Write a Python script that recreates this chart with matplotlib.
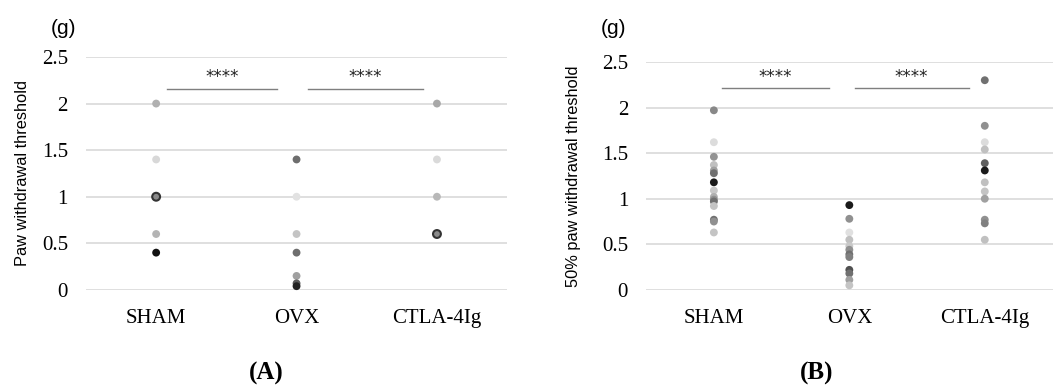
import numpy as np
from matplotlib import pyplot as plt

# Data
groups = ['SHAM', 'OVX', 'CTLA-4Ig']

a_sham = [2.0, 1.4, 1.0, 0.6, 0.4]
a_ovx = [1.4, 1.0, 0.6, 0.4, 0.15, 0.07, 0.04]
a_ctla = [2.0, 1.4, 1.0, 0.6]

b_sham = [1.97, 1.62, 1.46, 1.37, 1.31, 1.28, 1.18, 1.09, 1.02, 0.99, 0.97, 0.92, 0.77, 0.75, 0.63]
b_ovx = [0.93, 0.78, 0.63, 0.55, 0.48, 0.44, 0.39, 0.36, 0.22, 0.18, 0.11, 0.05]
b_ctla = [2.30, 1.80, 1.62, 1.54, 1.39, 1.31, 1.18, 1.08, 1.00, 0.77, 0.73, 0.55]

sig_pairs = [(0, 1), (1, 2)]
sig_text = '****'

# Styles (gray shade per point)
a_shades = [['#b0b0b0', '#d8d8d8', '#8a8a8a', '#b4b4b4', '#111111'],
            ['#6e6e6e', '#e2e2e2', '#c4c4c4', '#6e6e6e', '#a0a0a0', '#5a5a5a', '#222222'],
            ['#a8a8a8', '#dadada', '#b8b8b8', '#8a8a8a']]
a_edges = [['none', 'none', '#333333', 'none', 'none'],
           ['none'] * 7,
           ['none', 'none', 'none', '#333333']]
b_shades = [['#888888', '#dcdcdc', '#939393', '#c0c0c0', '#a0a0a0', '#707070', '#1a1a1a',
             '#c8c8c8', '#b0b0b0', '#909090', '#707070', '#c4c4c4', '#707070', '#909090', '#c4c4c4'],
            ['#1a1a1a', '#909090', '#e0e0e0', '#c0c0c0', '#c8c8c8', '#909090', '#707070',
             '#808080', '#505050', '#707070', '#a0a0a0', '#c4c4c4'],
            ['#707070', '#909090', '#dcdcdc', '#c0c0c0', '#606060', '#1a1a1a', '#c0c0c0',
             '#c4c4c4', '#a0a0a0', '#909090', '#808080', '#c0c0c0']]

serif = 'Liberation Serif'
sans = 'Liberation Sans'


def draw_panel(fig, ax, series, shades, edges, ylabel, ylab_x, sig_y, sig_spans,
               letter, letter_x, g_x):
    ax.set_xlim(-0.5, 2.5)
    ax.set_ylim(0, 2.5)
    ax.set_yticks([0, 0.5, 1, 1.5, 2, 2.5])
    ax.set_yticklabels(['0', '0.5', '1', '1.5', '2', '2.5'], fontfamily=serif, fontsize=15)
    ax.set_xticks(range(len(groups)))
    ax.set_xticklabels(groups, fontfamily=serif, fontsize=15)
    ax.tick_params(length=0)
    ax.tick_params(axis='y', pad=13)
    ax.tick_params(axis='x', pad=14)
    for s in ax.spines.values():
        s.set_visible(False)
    ax.grid(axis='y', color='#d9d9d9', linewidth=1.2)
    ax.set_axisbelow(True)
    for i, vals in enumerate(series):
        ax.scatter([i] * len(vals), vals, s=32, c=shades[i],
                   edgecolors=edges[i] if edges else 'none', linewidths=1.5,
                   clip_on=False, zorder=3)
    for (x0, x1) in sig_spans:
        ax.plot([x0, x1], [sig_y, sig_y], color='#7f7f7f', linewidth=1, clip_on=False)
        ax.text((x0 + x1) / 2, sig_y + 0.03, sig_text, ha='center', va='bottom',
                fontsize=12, fontfamily='DejaVu Sans', color='#222222')
    ax.set_ylabel(ylabel, fontfamily=sans, fontsize=11.8)
    ax.yaxis.set_label_coords(ylab_x, 0.5)
    fig.text(g_x / 1061, 1 - 28 / 385, '(g)', ha='center', va='center',
             fontfamily=sans, fontsize=15)
    fig.text(letter_x / 1061, 1 - 373 / 385, letter, ha='center', va='center',
             fontfamily=serif, fontsize=18, fontweight='bold')


fig = plt.figure(figsize=(10.61, 3.85), dpi=100)
ax1 = fig.add_axes([0.081, 0.247, 0.397, 0.605])
ax2 = fig.add_axes([0.609, 0.247, 0.383, 0.592])

draw_panel(fig, ax1, [a_sham, a_ovx, a_ctla], a_shades, a_edges,
           'Paw withdrawal threshold', -0.133, 2.16, [(0.08, 0.86), (1.08, 1.9)],
           '(A)', 266, 63)
draw_panel(fig, ax2, [b_sham, b_ovx, b_ctla], b_shades, None,
           '50% paw withdrawal threshold', -0.16, 2.21, [(0.06, 0.85), (1.04, 1.88)],
           '(B)', 817, 613)

plt.savefig('out.png', dpi=100)
